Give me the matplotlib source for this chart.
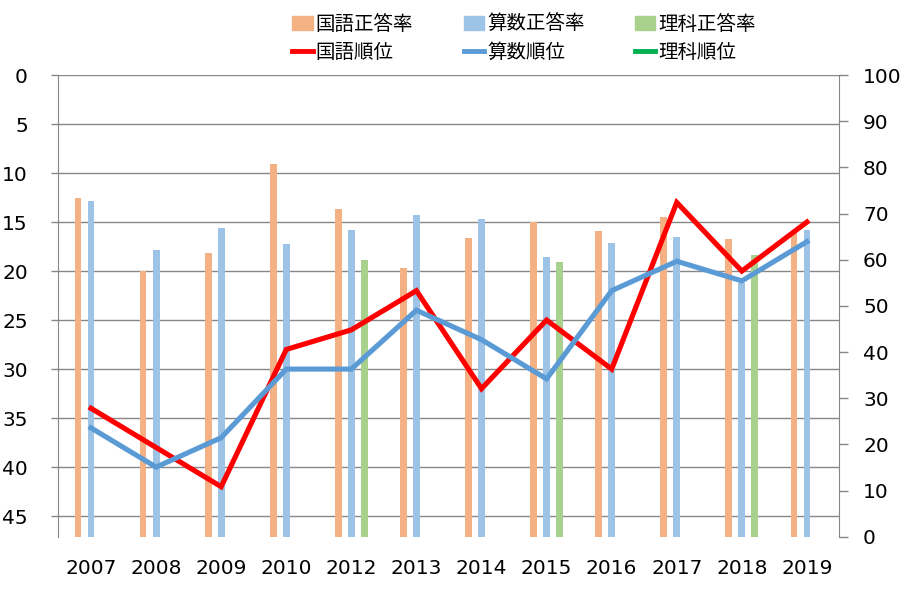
import numpy as np
import matplotlib
matplotlib.use("Agg")
import matplotlib.pyplot as plt
from matplotlib.patches import Patch
from matplotlib.lines import Line2D

years = ["2007", "2008", "2009", "2010", "2012", "2013",
         "2014", "2015", "2016", "2017", "2018", "2019"]

# 正答率 (右軸, %)
kokugo_rate = [73.4, 57.5, 61.5, 80.7, 71.0, 58.3, 64.7, 68.2, 66.2, 69.2, 64.5, 66.0]
sansu_rate  = [72.7, 62.1, 66.9, 63.5, 66.4, 69.7, 68.8, 60.6, 63.6, 64.9, 55.0, 66.4]
rika_rate   = [None, None, None, None, 59.9, None, None, 59.5, None, None, 61.0, None]

# 順位 (左軸, 反転)
kokugo_rank = [34, 38, 42, 28, 26, 22, 32, 25, 30, 13, 20, 15]
sansu_rank  = [36, 40, 37, 30, 30, 24, 27, 31, 22, 19, 21, 17]
rika_rank   = [None] * 12

rank_ticks = [0, 5, 10, 15, 20, 25, 30, 35, 40, 45]
rate_ticks = [0, 10, 20, 30, 40, 50, 60, 70, 80, 90, 100]

C_KOKUGO_BAR = "#F4B183"
C_SANSU_BAR = "#9DC3E6"
C_RIKA_BAR = "#A9D18E"
C_KOKUGO_LINE = "#FF0000"
C_SANSU_LINE = "#5B9BD5"
C_RIKA_LINE = "#00B050"
GRID = "#878787"


def to_arr(vals):
    return np.array([np.nan if v is None else v for v in vals], dtype=float)


x = np.arange(len(years))

fig = plt.figure(figsize=(9.05, 6.05), dpi=100)
ax = fig.add_axes([0.0646, 0.1129, 0.863, 0.7631])   # 順位軸 + グリッド
ax_bar = ax.twinx()                                    # 正答率
ax_line = ax.twinx()                                   # 順位の線
ax.set_zorder(0)
ax_bar.set_zorder(1)
ax_line.set_zorder(2)

# grid / rank axis
ax.set_xlim(-0.5, len(years) - 0.5)
ax.set_ylim(47.1, 0)
ax.set_yticks(rank_ticks)
ax.grid(axis="y", color=GRID, linewidth=1.0)
ax.tick_params(axis="y", length=5, width=1, color=GRID, pad=17, labelsize=14.5)
ax.tick_params(axis="x", length=0, pad=16, labelsize=14.5)
ax.set_xticks(x)
ax.set_xticklabels(years)
for s in ["top", "bottom", "right"]:
    ax.spines[s].set_visible(False)
ax.spines["left"].set_color(GRID)

# bars
w = 0.105
ax_bar.bar(x - 0.2, to_arr(kokugo_rate), w, color=C_KOKUGO_BAR)
ax_bar.bar(x, to_arr(sansu_rate), w, color=C_SANSU_BAR)
ax_bar.bar(x + 0.2, to_arr(rika_rate), w, color=C_RIKA_BAR)
ax_bar.set_ylim(0, 100)
ax_bar.set_yticks(rate_ticks)
ax_bar.tick_params(axis="y", length=6.5, width=1, color=GRID, pad=10.5, labelsize=14.5)
for s in ["top", "bottom", "left"]:
    ax_bar.spines[s].set_visible(False)
ax_bar.spines["right"].set_color(GRID)

# lines
ax_line.plot(x, to_arr(kokugo_rank), color=C_KOKUGO_LINE, lw=3.7, solid_joinstyle="miter")
ax_line.plot(x, to_arr(sansu_rank), color=C_SANSU_LINE, lw=3.7, solid_joinstyle="miter")
ax_line.plot(x, to_arr(rika_rank), color=C_RIKA_LINE, lw=3.7)
ax_line.set_ylim(47.1, 0)
ax_line.set_yticks([])
for s in ax_line.spines.values():
    s.set_visible(False)

handles = [
    Patch(color=C_KOKUGO_BAR), Line2D([], [], color=C_KOKUGO_LINE, lw=3.5),
    Patch(color=C_SANSU_BAR), Line2D([], [], color=C_SANSU_LINE, lw=3.5),
    Patch(color=C_RIKA_BAR), Line2D([], [], color=C_RIKA_LINE, lw=3.5),
]
labels = ["国語正答率", "国語順位", "算数正答率", "算数順位", "理科正答率", "理科順位"]
fig.legend(handles, labels, ncol=3, loc="center", bbox_to_anchor=(0.579, 0.937),
           frameon=False, prop={"family": ["Noto Sans CJK JP", "DejaVu Sans"], "size": 14},
           handlelength=1.05, handleheight=0.75, handletextpad=0.15,
           columnspacing=2.6, labelspacing=0.35)

fig.savefig("out.png", dpi=100)
